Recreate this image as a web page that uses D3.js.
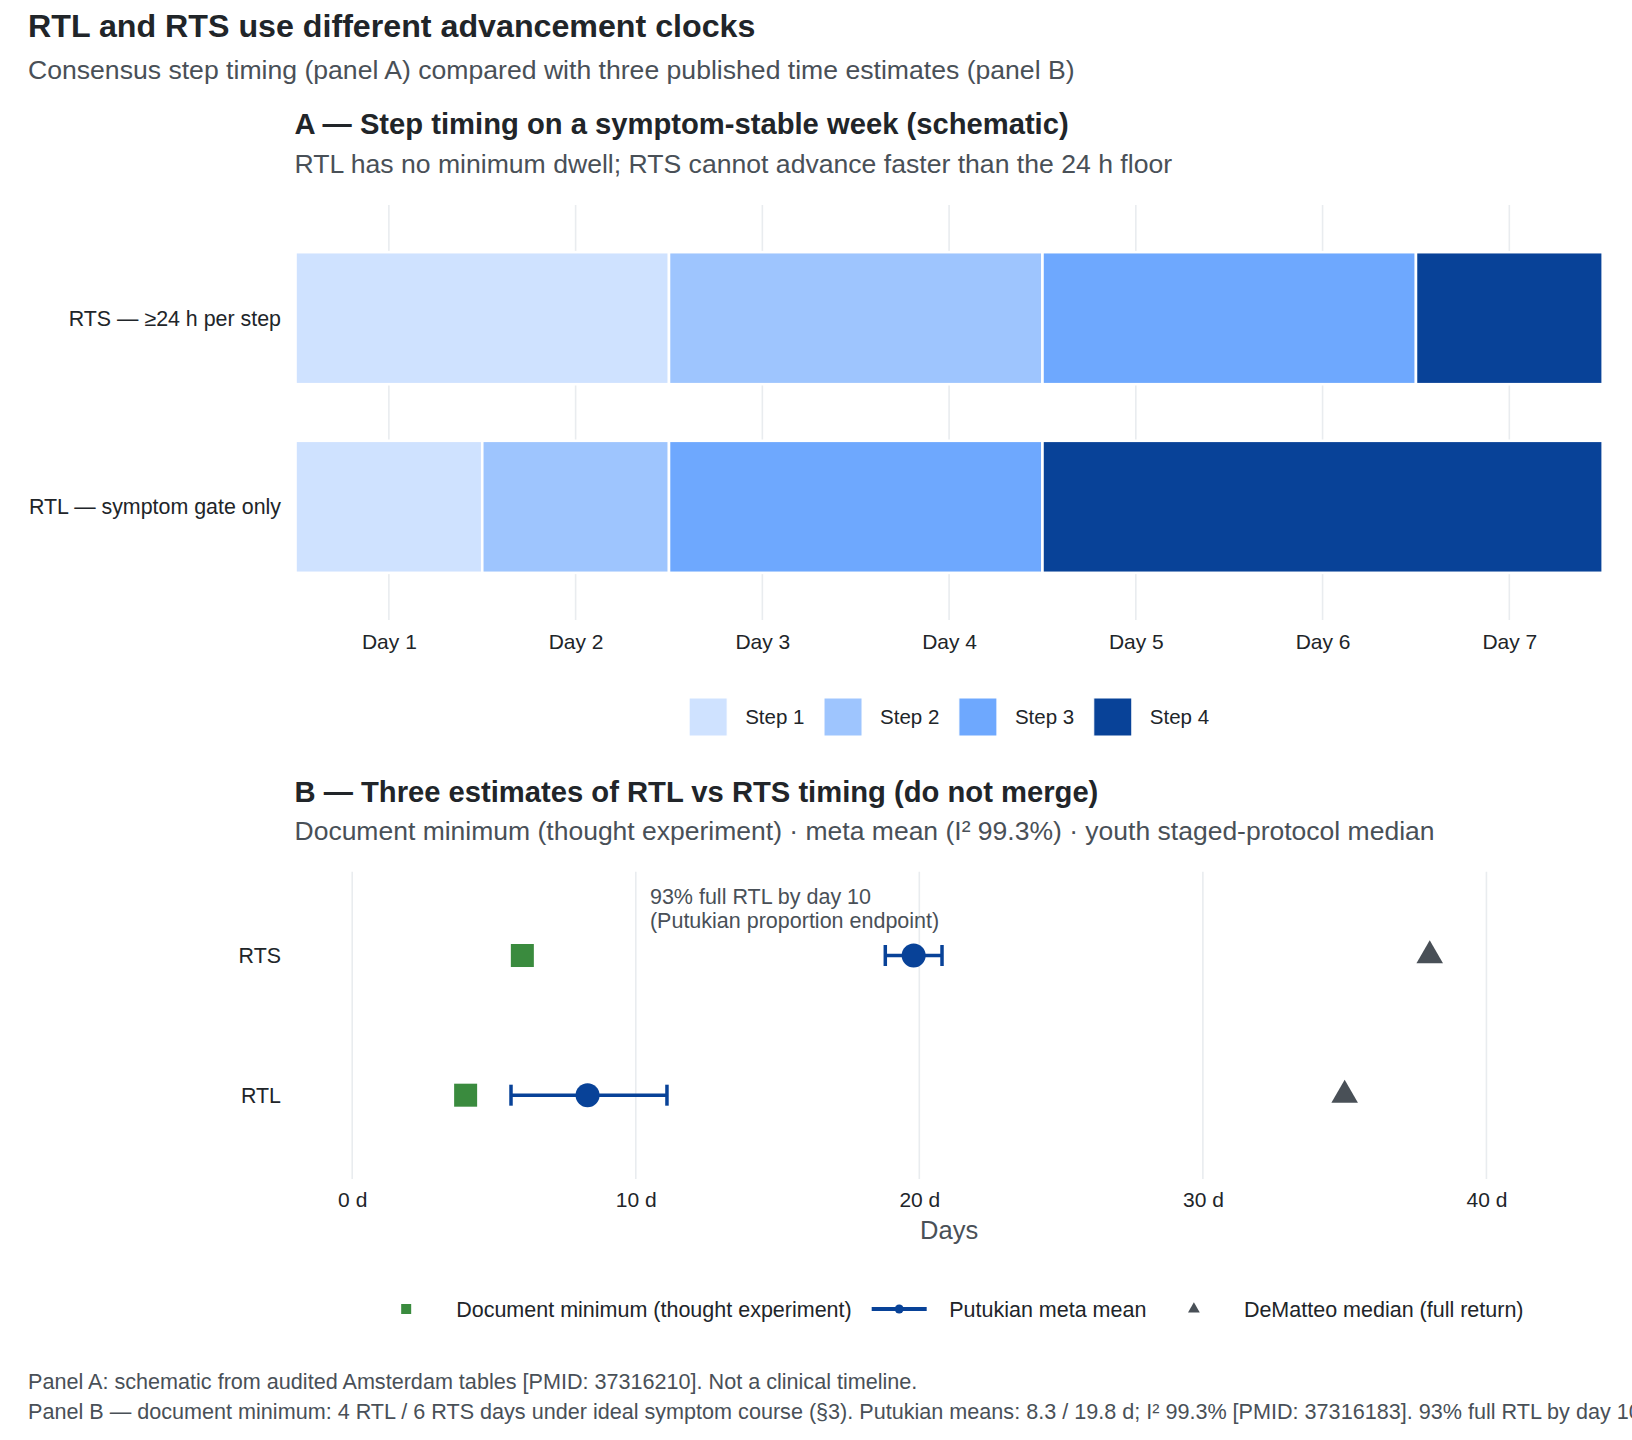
<!DOCTYPE html>
<html>
<head>
<meta charset="utf-8">
<script src="https://cdn.jsdelivr.net/npm/d3@7"></script>
<style>
  html, body { margin: 0; padding: 0; background: #ffffff; }
  svg { display: block; font-family: "Liberation Sans", Arial, Helvetica, sans-serif; }
</style>
</head>
<body>
<svg id="chart" width="1632" height="1440"></svg>
<script>
// ---------------- DATA ----------------
const dayTicks = [1, 2, 3, 4, 5, 6, 7];
const dayTickLabels = ["Day 1", "Day 2", "Day 3", "Day 4", "Day 5", "Day 6", "Day 7"];
const steps = ["Step 1", "Step 2", "Step 3", "Step 4"];
const stepColors = ["#cfe2ff", "#9ec5fe", "#6ea8fe", "#084298"];
const protocolsA = ["RTS — ≥24 h per step", "RTL — symptom gate only"];
const rtsStepStart = [0.5, 2.5, 4.5, 6.5];
const rtsStepEnd   = [2.5, 4.5, 6.5, 7.5];
const rtlStepStart = [0.5, 1.5, 2.5, 4.5];
const rtlStepEnd   = [1.5, 2.5, 4.5, 7.5];

const outcomesB = ["RTS", "RTL"];
const docMinimum = [6, 4];
const putukianMean = [19.8, 8.3];
const putukianLow  = [18.8, 5.6];
const putukianHigh = [20.8, 11.1];
const dematteoMedian = [38, 35];
const dayTicksB = [0, 10, 20, 30, 40];
const dayTickLabelsB = ["0 d", "10 d", "20 d", "30 d", "40 d"];
const annotationLines = ["93% full RTL by day 10", "(Putukian proportion endpoint)"];
const annotationX = 10.5;
const legendB = ["Document minimum (thought experiment)", "Putukian meta mean", "DeMatteo median (full return)"];

const titleText = "RTL and RTS use different advancement clocks";
const subtitleText = "Consensus step timing (panel A) compared with three published time estimates (panel B)";
const titleA = "A — Step timing on a symptom-stable week (schematic)";
const subA = "RTL has no minimum dwell; RTS cannot advance faster than the 24 h floor";
const titleB = "B — Three estimates of RTL vs RTS timing (do not merge)";
const subB = "Document minimum (thought experiment) · meta mean (I² 99.3%) · youth staged-protocol median";
const captionLines = [
  "Panel A: schematic from audited Amsterdam tables [PMID: 37316210]. Not a clinical timeline.",
  "Panel B — document minimum: 4 RTL / 6 RTS days under ideal symptom course (§3). Putukian means: 8.3 / 19.8 d; I² 99.3% [PMID: 37316183]. 93% full RTL by day 10"
];

// ---------------- STYLE ----------------
const DARK = "#212529", GRAY = "#495057", GRID = "#e9ecef";
const GREEN = "#3a8b3e", BLUE = "#084298", TRI = "#495057";
const panelL = 295.5, panelR = 1602.7;
const BODY = 21.5;

const svg = d3.select("#chart");

// Titles
svg.append("text").attr("x", 28).attr("y", 37).attr("font-size", 32.2).attr("font-weight", "bold")
  .attr("fill", DARK).text(titleText);
svg.append("text").attr("x", 28).attr("y", 79).attr("font-size", 26.6).attr("fill", GRAY).text(subtitleText);

// ================= PANEL A =================
svg.append("text").attr("x", panelL - 1).attr("y", 134).attr("font-size", 29.2).attr("font-weight", "bold")
  .attr("fill", DARK).text(titleA);
svg.append("text").attr("x", panelL - 1).attr("y", 173).attr("font-size", 26.6).attr("fill", GRAY).text(subA);

const xA = d3.scaleLinear().domain([0.5, 7.5]).range([panelL, panelR]);
const yA = d3.scalePoint().domain(protocolsA).range([205, 620]).padding(0.6);
const barH = yA.step() * 0.7;

const gA = svg.append("g");
gA.selectAll("line.grid").data(dayTicks).join("line")
  .attr("x1", d => xA(d)).attr("x2", d => xA(d))
  .attr("y1", 205).attr("y2", 620)
  .attr("stroke", GRID).attr("stroke-width", 1.6);

const segs = [];
steps.forEach((s, i) => {
  segs.push({ row: protocolsA[0], step: i, start: rtsStepStart[i], end: rtsStepEnd[i] });
  segs.push({ row: protocolsA[1], step: i, start: rtlStepStart[i], end: rtlStepEnd[i] });
});
gA.selectAll("rect.seg").data(segs).join("rect")
  .attr("x", d => xA(d.start)).attr("width", d => xA(d.end) - xA(d.start))
  .attr("y", d => yA(d.row) - barH / 2).attr("height", barH)
  .attr("fill", d => stepColors[d.step]).attr("stroke", "#ffffff").attr("stroke-width", 2.6);

// x axis A
const axA = svg.append("g").attr("transform", "translate(0,620)")
  .call(d3.axisBottom(xA).tickValues(dayTicks).tickFormat((d, i) => dayTickLabels[i]).tickSize(0).tickPadding(0));
axA.select(".domain").remove();
axA.selectAll("text").attr("font-size", 21).attr("fill", DARK).attr("dy", null).attr("y", 29)
  .attr("font-family", "Liberation Sans, Arial, sans-serif");

// y labels A
svg.selectAll("text.ylabA").data(protocolsA).join("text")
  .attr("x", 281).attr("y", d => yA(d)).attr("dy", "0.35em").attr("text-anchor", "end")
  .attr("font-size", 21.4).attr("fill", DARK).text(d => d);

// legend A
const legA = svg.append("g");
let widthsA = steps.map(s => {
  const t = legA.append("text").attr("font-size", 20.5).text(s);
  const w = t.node().getComputedTextLength(); t.remove(); return w;
});
const keyA = 38, gapKT = 18, gapItem = 19.6;
const totA = d3.sum(widthsA) + steps.length * (keyA + gapKT) + (steps.length - 1) * gapItem;
let cx = (panelL + panelR) / 2 - totA / 2;
const legAY = 717;
steps.forEach((s, i) => {
  legA.append("rect").attr("x", cx).attr("y", legAY - keyA / 2).attr("width", keyA).attr("height", keyA)
    .attr("fill", stepColors[i]).attr("stroke", "#ffffff").attr("stroke-width", 1);
  legA.append("text").attr("x", cx + keyA + gapKT).attr("y", legAY).attr("dy", "0.35em")
    .attr("font-size", 20.5).attr("fill", DARK).text(s);
  cx += keyA + gapKT + widthsA[i] + gapItem;
});

// ================= PANEL B =================
svg.append("text").attr("x", panelL - 1).attr("y", 802).attr("font-size", 29.2).attr("font-weight", "bold")
  .attr("fill", DARK).text(titleB);
svg.append("text").attr("x", panelL - 1).attr("y", 840).attr("font-size", 26.5).attr("fill", GRAY).text(subB);

const xB = d3.scaleLinear().domain([-2, 44.1]).range([panelL, panelR]);
const yB = d3.scalePoint().domain(outcomesB).range([871.7, 1179]).padding(0.6);

const gB = svg.append("g");
gB.selectAll("line.grid").data(dayTicksB).join("line")
  .attr("x1", d => xB(d)).attr("x2", d => xB(d))
  .attr("y1", 871.7).attr("y2", 1179)
  .attr("stroke", GRID).attr("stroke-width", 1.6);

// annotation
annotationLines.forEach((l, i) => {
  gB.append("text").attr("x", xB(annotationX)).attr("y", 903.5 + i * 24)
    .attr("font-size", BODY).attr("fill", GRAY).text(l);
});

// document minimum squares
const sq = 23;
gB.selectAll("rect.doc").data(outcomesB).join("rect")
  .attr("x", (d, i) => xB(docMinimum[i]) - sq / 2).attr("y", d => yB(d) - sq / 2)
  .attr("width", sq).attr("height", sq).attr("fill", GREEN);

// Putukian error bars
const capH = 21;
outcomesB.forEach((o, i) => {
  const y = yB(o);
  gB.append("line").attr("x1", xB(putukianLow[i])).attr("x2", xB(putukianHigh[i]))
    .attr("y1", y).attr("y2", y).attr("stroke", BLUE).attr("stroke-width", 3.5);
  [putukianLow[i], putukianHigh[i]].forEach(v => {
    gB.append("line").attr("x1", xB(v)).attr("x2", xB(v))
      .attr("y1", y - capH / 2).attr("y2", y + capH / 2).attr("stroke", BLUE).attr("stroke-width", 3.5);
  });
  gB.append("circle").attr("cx", xB(putukianMean[i])).attr("cy", y).attr("r", 12).attr("fill", BLUE);
});

// DeMatteo triangles
const tri = d3.symbol().type(d3.symbolTriangle).size(305);
gB.selectAll("path.tri").data(outcomesB).join("path")
  .attr("transform", (d, i) => `translate(${xB(dematteoMedian[i])},${yB(d)})`)
  .attr("d", tri).attr("fill", TRI);

// x axis B
const axB = svg.append("g").attr("transform", "translate(0,1179)")
  .call(d3.axisBottom(xB).tickValues(dayTicksB).tickFormat((d, i) => dayTickLabelsB[i]).tickSize(0).tickPadding(0));
axB.select(".domain").remove();
axB.selectAll("text").attr("font-size", 21).attr("fill", DARK).attr("dy", null).attr("y", 28)
  .attr("font-family", "Liberation Sans, Arial, sans-serif");
svg.append("text").attr("x", (panelL + panelR) / 2).attr("y", 1239).attr("text-anchor", "middle")
  .attr("font-size", 25.5).attr("fill", GRAY).text("Days");

// y labels B
svg.selectAll("text.ylabB").data(outcomesB).join("text")
  .attr("x", 281).attr("y", d => yB(d)).attr("dy", "0.35em").attr("text-anchor", "end")
  .attr("font-size", 21.4).attr("fill", DARK).text(d => d);

// legend B
const legB = svg.append("g");
const widthsB = legendB.map(s => {
  const t = legB.append("text").attr("font-size", BODY).text(s);
  const w = t.node().getComputedTextLength(); t.remove(); return w;
});
const keyB = 55, gapKTB = 22.5, gapItemB = 20;
const totB = d3.sum(widthsB) + legendB.length * (keyB + gapKTB) + (legendB.length - 1) * gapItemB;
let bx = (panelL + panelR) / 2 - totB / 2 + 2;
const legBY = 1309;
legendB.forEach((s, i) => {
  const kc = bx + keyB / 2;
  if (i === 0) {
    legB.append("rect").attr("x", kc - 5).attr("y", legBY - 5).attr("width", 10).attr("height", 10).attr("fill", GREEN);
  } else if (i === 1) {
    legB.append("line").attr("x1", bx).attr("x2", bx + keyB).attr("y1", legBY).attr("y2", legBY)
      .attr("stroke", BLUE).attr("stroke-width", 4);
    legB.append("circle").attr("cx", kc).attr("cy", legBY).attr("r", 4.5).attr("fill", BLUE);
  } else {
    legB.append("path").attr("transform", `translate(${kc},${legBY})`)
      .attr("d", d3.symbol().type(d3.symbolTriangle).size(60)).attr("fill", TRI);
  }
  legB.append("text").attr("x", bx + keyB + gapKTB).attr("y", legBY).attr("dy", "0.35em")
    .attr("font-size", BODY).attr("fill", DARK).text(s);
  bx += keyB + gapKTB + widthsB[i] + gapItemB;
});

// caption
captionLines.forEach((l, i) => {
  svg.append("text").attr("x", 28).attr("y", 1389 + i * 29.5).attr("font-size", 21.6).attr("fill", GRAY).text(l);
});
</script>
</body>
</html>
